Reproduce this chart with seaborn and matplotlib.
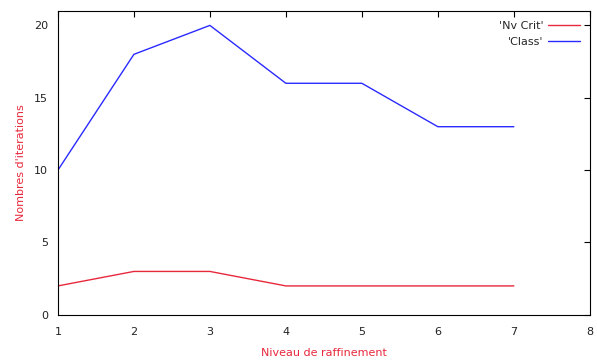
import matplotlib
matplotlib.use("Agg")
import matplotlib.pyplot as plt
import seaborn as sns
import pandas as pd

niveaux = [1, 2, 3, 4, 5, 6, 7]
nv_crit = [2, 3, 3, 2, 2, 2, 2]
classe = [10, 18, 20, 16, 16, 13, 13]
series_names = ["'Nv Crit'", "'Class'"]
x_ticks = [1, 2, 3, 4, 5, 6, 7, 8]
y_ticks = [0, 5, 10, 15, 20]

df = pd.DataFrame({
    "x": niveaux * 2,
    "y": nv_crit + classe,
    "serie": [series_names[0]] * len(niveaux) + [series_names[1]] * len(niveaux),
})

sns.set_style("white")
plt.rcParams['font.family'] = ['DejaVu Sans']

fig = plt.figure(figsize=(5.97, 3.64), dpi=100)
ax = fig.add_axes([0.097, 0.135, 0.891, 0.835])
sns.lineplot(data=df, x="x", y="y", hue="serie",
             palette={series_names[0]: "#e8283c", series_names[1]: "#2a2aff"},
             linewidth=1.0, ax=ax, legend=True)

ax.set_xlim(1, 8)
ax.set_ylim(0, 21)
ax.set_xticks(x_ticks)
ax.set_yticks(y_ticks)
ax.tick_params(direction="in", length=4, width=0.8, labelsize=8, colors="black",
               top=True, right=True)
ax.tick_params(axis="x", labelcolor="#222222", pad=9)
ax.tick_params(axis="y", labelcolor="#222222", pad=7)
for s in ax.spines.values():
    s.set_color("black")
    s.set_linewidth(0.8)

ax.set_xlabel("Niveau de raffinement", color="#e8283c", fontsize=8, labelpad=8)
ax.set_ylabel("Nombres d'iterations", color="#e8283c", fontsize=8, labelpad=6)

leg = ax.legend(loc="upper right", frameon=False, fontsize=8, markerfirst=False,
                handlelength=2.9, handletextpad=0.4, labelspacing=0.55,
                borderaxespad=0.4, borderpad=0.5, title=None)

fig.savefig("out.png", dpi=100)
